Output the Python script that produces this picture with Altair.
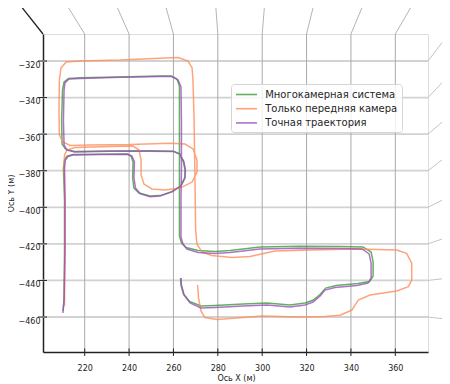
import altair as alt
import pandas as pd

# ---- axes / grid values (data units) ----
X_TICKS = [220, 240, 260, 280, 300, 320, 340, 360]
Y_TICKS = [-320, -340, -360, -380, -400, -420, -440, -460]
X_DOMAIN = [201.2, 374.74]
Y_DOMAIN = [-479.14, -305.23]
VGRID_TOP_X = [212.5, 234.6, 256.6, 279.1, 301.0, 323.0, 345.1, 367.1]
VGRID_TOP_Y = -290.5
HGRID_END_X = 383.9
HGRID_END_Y = [-305.4, -328.2, -350.5, -371.4, -394.4, -416.2, -438.7, -461.3]
CORNER_X = [201.2, 191.6]
CORNER_Y = [-305.23, -290.5]

SERIES = ["Многокамерная система", "Только передняя камера", "Точная траектория"]
COLORS = ["#3a9e3a", "#ff8c5a", "#9c4fb8"]

# ---- multi-camera estimate ----
multi_x = [210.2, 210.7, 210.9, 210.9, 210.4, 210.9, 212.0, 214.7, 226.9, 239.1, 240.9, 241.8,
           241.6, 242.2, 244.5, 249.4, 254.0, 259.4, 263.4, 265.2, 265.2, 264.5, 262.7, 259.8,
           249.4, 231.4, 215.2, 211.3, 209.8, 209.6, 210.0, 210.7, 212.7, 217.9, 235.9, 253.9,
           258.9, 261.6, 262.7, 262.7, 262.7, 262.7, 262.7, 263.6, 265.7, 271.1, 278.7, 285.5,
           299.0, 317.0, 335.1, 345.4, 349.1, 350.0, 350.0, 348.4, 343.2, 333.3, 328.6, 326.3,
           323.1, 319.3, 312.5, 302.2, 291.4, 278.7, 272.4, 267.3, 264.5, 263.4, 263.2]
multi_y = [-456.7, -450.7, -423.4, -396.0, -378.5, -374.1, -372.0, -371.1, -371.0, -370.9, -372.0, -375.2,
           -384.0, -389.5, -392.2, -393.8, -393.6, -391.3, -388.1, -383.5, -379.6, -375.0, -370.9, -369.3,
           -369.1, -369.2, -369.5, -368.1, -365.4, -352.3, -335.9, -331.5, -329.6, -329.2, -328.8, -328.2,
           -328.2, -329.8, -333.7, -352.3, -379.6, -396.0, -415.7, -419.5, -422.0, -423.6, -424.2, -423.6,
           -421.7, -421.3, -421.4, -421.7, -424.5, -429.9, -437.6, -440.6, -441.7, -442.8, -444.2, -447.4,
           -450.7, -452.3, -453.4, -452.3, -452.9, -453.7, -454.0, -451.5, -447.4, -442.5, -438.7]

# ---- front camera only ----
front_x = [210.9, 211.1, 211.1, 210.7, 210.9, 212.0, 215.6, 231.4, 241.8, 244.5, 245.4, 245.4,
           246.7, 250.3, 256.2, 263.0, 268.4, 270.6, 270.6, 268.8, 265.2, 258.4, 240.4, 222.4,
           213.4, 210.2, 208.6, 208.4, 208.6, 209.3, 211.6, 217.9, 235.9, 253.9, 262.1, 266.6,
           268.4, 268.8, 269.3, 269.7, 270.0, 270.6, 272.9, 277.2, 286.3, 294.5, 305.8, 321.6,
           342.7, 360.6, 365.1, 367.4, 367.4, 365.9, 360.6, 348.6, 343.3, 340.4, 335.1, 328.3,
           317.0, 299.9, 285.5, 279.6, 274.2, 272.4, 271.3, 270.9]
front_y = [-454.0, -423.4, -396.0, -376.9, -371.4, -368.7, -367.3, -366.8, -366.5, -368.7, -374.1, -382.3,
           -387.3, -390.0, -390.5, -389.5, -386.2, -380.7, -374.1, -368.1, -365.4, -365.0, -365.7, -365.9,
           -366.2, -364.3, -360.5, -346.8, -330.4, -323.8, -320.5, -320.0, -319.5, -318.5, -318.1, -320.0,
           -323.8, -330.4, -352.3, -385.1, -412.4, -420.1, -424.5, -426.4, -427.5, -426.9, -423.9, -423.4,
           -422.8, -423.4, -425.2, -430.6, -439.8, -443.4, -445.8, -448.0, -450.7, -456.2, -459.0, -459.7,
           -460.0, -459.5, -460.8, -461.4, -460.3, -456.7, -449.6, -442.5]

# ---- ground truth ----
truth_x = [210.2, 210.7, 211.1, 211.1, 210.9, 211.3, 212.5, 214.7, 226.9, 239.5, 241.3, 242.4,
           242.2, 242.9, 244.9, 249.4, 254.0, 259.4, 263.4, 265.2, 265.4, 264.7, 263.0, 260.3,
           249.4, 231.4, 215.6, 212.0, 210.7, 210.4, 210.7, 211.1, 212.9, 217.9, 235.9, 253.9,
           259.4, 262.1, 263.4, 263.6, 263.6, 263.4, 263.4, 264.3, 266.1, 271.1, 278.7, 285.5,
           299.0, 317.0, 335.1, 345.0, 348.2, 349.1, 349.1, 347.7, 342.7, 332.8, 328.3, 326.1,
           322.9, 319.3, 312.5, 302.2, 291.4, 278.7, 272.4, 267.5, 264.8, 263.6, 263.4]
truth_y = [-457.8, -450.7, -423.4, -396.0, -378.5, -374.1, -372.2, -371.4, -371.1, -371.0, -372.0, -375.2,
           -384.0, -389.5, -392.5, -394.2, -393.8, -391.6, -388.4, -384.0, -379.6, -375.1, -370.9, -369.5,
           -369.3, -369.4, -369.7, -368.7, -365.9, -352.3, -335.9, -332.0, -329.8, -329.5, -328.9, -328.5,
           -328.5, -330.4, -334.2, -352.3, -379.6, -396.0, -416.2, -420.1, -422.8, -424.7, -425.3, -424.7,
           -422.8, -422.4, -422.5, -422.8, -425.5, -430.5, -438.7, -441.4, -442.8, -443.9, -445.3, -448.5,
           -451.8, -453.4, -454.5, -453.4, -454.0, -454.8, -455.1, -452.3, -448.0, -442.5, -438.7]

# ---- tables ----
rows = []
for name, xs_, ys_ in [(SERIES[0], multi_x, multi_y), (SERIES[1], front_x, front_y), (SERIES[2], truth_x, truth_y)]:
    for i, (a, b) in enumerate(zip(xs_, ys_)):
        rows.append({"series": name, "x": a, "y": b, "i": i})
lines_df = pd.DataFrame(rows)

hgrid_df = pd.DataFrame({"y": Y_TICKS, "y2": HGRID_END_Y,
                         "x": [X_DOMAIN[1]] * len(Y_TICKS), "x2": [HGRID_END_X] * len(Y_TICKS)})
vgrid_df = pd.DataFrame({"x": X_TICKS, "x2": VGRID_TOP_X,
                         "y": [Y_DOMAIN[1]] * len(X_TICKS), "y2": [VGRID_TOP_Y] * len(X_TICKS)})
corner_df = pd.DataFrame({"x": [CORNER_X[0]], "x2": [CORNER_X[1]], "y": [CORNER_Y[0]], "y2": [CORNER_Y[1]]})

xs = alt.Scale(domain=X_DOMAIN, nice=False, zero=False)
ys = alt.Scale(domain=Y_DOMAIN, nice=False, zero=False)

AX = alt.Axis(
    values=X_TICKS, format="d", title="Ось X (м)", grid=False, ticks=False,
    domainColor="#222222", domainWidth=1.5, labelFontSize=8, labelPadding=12,
    labelColor="#222222", labelFlush=False, titleFontSize=8, titleFontWeight="normal",
    titleColor="#222222", titleX=193, titleY=26, titleBaseline="middle", titleAlign="center")
AY = alt.Axis(
    values=Y_TICKS, format="d", title="Ось Y (м)", grid=False, ticks=False,
    domainColor="#222222", domainWidth=1.5, labelFontSize=8, labelPadding=3, labelOffset=4,
    labelColor="#222222", labelFlush=False, titleFontSize=8, titleFontWeight="normal",
    titleColor="#222222", titleX=-31.5, titleY=159, titleAngle=270, titleBaseline="middle",
    titleAlign="center")


def X(f="x"):
    return alt.X(f + ":Q", scale=xs, axis=AX)


def Y(f="y"):
    return alt.Y(f + ":Q", scale=ys, axis=AY)


h_rules = alt.Chart(hgrid_df).mark_rule(color="#d2d2d2", strokeWidth=1.8).encode(y=Y())
h_diag = alt.Chart(hgrid_df).mark_rule(color="#c4c4c4", strokeWidth=1).encode(
    x=X(), x2="x2:Q", y=Y(), y2="y2:Q")
v_rules = alt.Chart(vgrid_df).mark_rule(color="#aaaaaa", strokeWidth=1).encode(x=X())
v_diag = alt.Chart(vgrid_df).mark_rule(color="#b4b4b4", strokeWidth=1).encode(
    x=X(), x2="x2:Q", y=Y(), y2="y2:Q")
corner = alt.Chart(corner_df).mark_rule(color="#222222", strokeWidth=1.3).encode(
    x=X(), x2="x2:Q", y=Y(), y2="y2:Q")
x_ticks = alt.Chart(pd.DataFrame({"x": X_TICKS})).mark_rule(color="#222222", strokeWidth=1).encode(
    x=X(), y=alt.value(314.5), y2=alt.value(322))
y_ticks = alt.Chart(pd.DataFrame({"y": Y_TICKS})).mark_rule(color="#222222", strokeWidth=1).encode(
    y=Y(), x=alt.value(-5), x2=alt.value(4))

lines = alt.Chart(lines_df).mark_line(strokeWidth=1.5, opacity=0.8).encode(
    x=X(),
    y=Y(),
    color=alt.Color("series:N", scale=alt.Scale(domain=SERIES, range=COLORS), legend=alt.Legend(
        title=None, orient="none", legendX=188, legendY=50, symbolType="M-2,0H2", symbolSize=110,
        symbolOffset=5, symbolStrokeWidth=1.6, symbolOpacity=0.8, labelFontSize=10, labelOffset=12.2,
        rowPadding=2.2, padding=4, strokeColor="#d5d5d5", fillColor="rgba(255,255,255,0.8)",
        cornerRadius=3, labelColor="#262626", labelLimit=300)),
    detail="series:N",
    order="i:Q",
)

chart = alt.layer(h_rules, h_diag, v_rules, v_diag, corner, x_ticks, y_ticks, lines).properties(
    width=385, height=318,
    padding={"left": 35, "top": 26, "right": 14, "bottom": 30},
    autosize=alt.AutoSizeParams(type="none"),
).configure_view(stroke=None).configure(font="DejaVu Sans")

chart.save("out.html", embed_options={"renderer": "svg", "actions": False})
